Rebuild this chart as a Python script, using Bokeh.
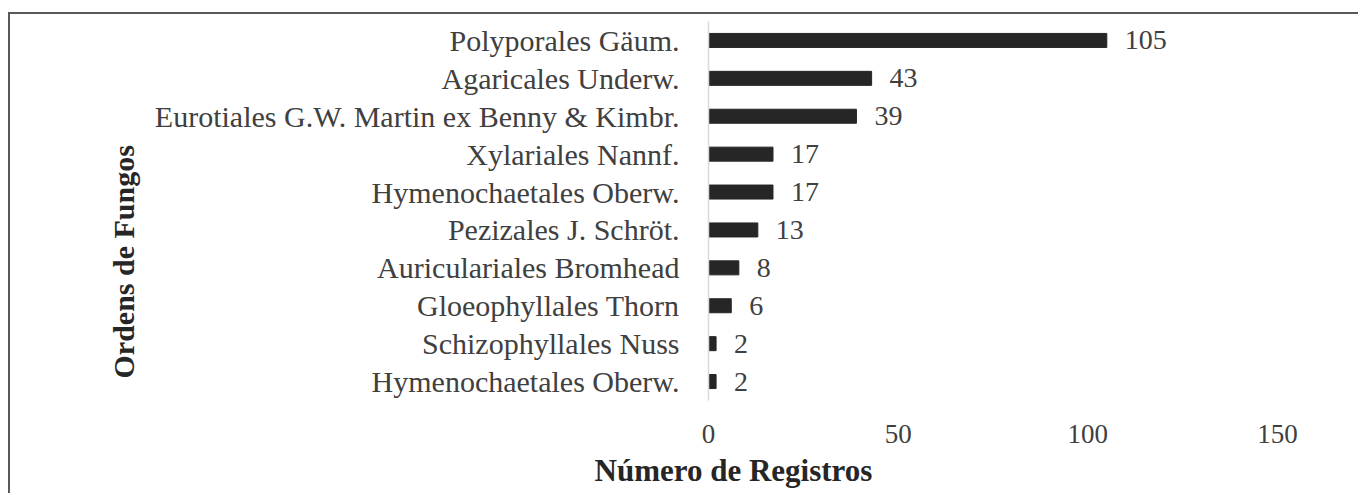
from bokeh.plotting import figure
from bokeh.models import Range1d, FixedTicker, ColumnDataSource, Title
from bokeh.embed import file_html
from bokeh.resources import INLINE
from bokeh.core.properties import value

# ---- data ----
orders = [
    "Polyporales Gäum.",
    "Agaricales Underw.",
    "Eurotiales G.W. Martin ex Benny & Kimbr.",
    "Xylariales Nannf.",
    "Hymenochaetales Oberw.",
    "Pezizales J. Schröt.",
    "Auriculariales Bromhead",
    "Gloeophyllales Thorn",
    "Schizophyllales Nuss",
    "Hymenochaetales Oberw.",
]
registros = [105, 43, 39, 17, 17, 13, 8, 6, 2, 2]
x_ticks = [0, 50, 100, 150]
x_title = "Número de Registros"
y_title = "Ordens de Fungos"

FONT = "Liberation Serif"
n = len(orders)
ypos = [n - 1 - i for i in range(n)]
src = ColumnDataSource(dict(y=ypos, v=registros, lab=[str(v) for v in registros]))

p = figure(width=1350, height=481,
           x_range=Range1d(x_ticks[0], x_ticks[-1]),
           y_range=Range1d(-0.5, n - 0.5),
           output_backend="svg", toolbar_location=None,
           min_border_left=698, min_border_right=83,
           min_border_top=7, min_border_bottom=95)
p.styles = {"border-top": "2px solid #595959", "border-left": "2px solid #595959",
            "margin-top": "12px", "margin-left": "8px"}
p.outline_line_color = None
p.xgrid.grid_line_color = None
p.ygrid.grid_line_color = None

p.hbar(y="y", right="v", left=0, height=0.37, color="#262626", source=src)
p.text(x="v", y="y", text="lab", x_offset=18, text_baseline="middle",
       text_align="left", text_font=value(FONT), text_font_size="28px",
       text_color="#404040", source=src)

# y axis
p.yaxis.ticker = FixedTicker(ticks=ypos)
p.yaxis.major_label_overrides = {y: name for y, name in zip(ypos, orders)}
p.yaxis.major_tick_line_color = None
p.yaxis.minor_tick_line_color = None
p.yaxis.axis_line_color = "#d9d9d9"
p.yaxis.axis_line_width = 1.5
p.yaxis.major_label_standoff = 23
p.yaxis.major_label_text_font = FONT
p.yaxis.major_label_text_font_size = "30px"
p.yaxis.major_label_text_color = "#404040"

# x axis
p.xaxis.ticker = FixedTicker(ticks=x_ticks)
p.xaxis.major_tick_line_color = None
p.xaxis.minor_tick_line_color = None
p.xaxis.axis_line_color = None
p.xaxis.major_label_standoff = 18
p.xaxis.major_label_text_font = FONT
p.xaxis.major_label_text_font_size = "27px"
p.xaxis.major_label_text_color = "#404040"

# axis titles (shifted from frame centre as in the reference)
p.add_layout(Title(text=x_title, align="left", offset=-114, standoff=10,
                   text_font=FONT, text_font_size="31px", text_font_style="bold",
                   text_color="#262626"), "below")
p.add_layout(Title(text=y_title, align="left", offset=22, standoff=24,
                   text_font=FONT, text_font_size="30px", text_font_style="bold",
                   text_color="#262626"), "left")

open("out.html", "w").write(file_html(p, INLINE))
